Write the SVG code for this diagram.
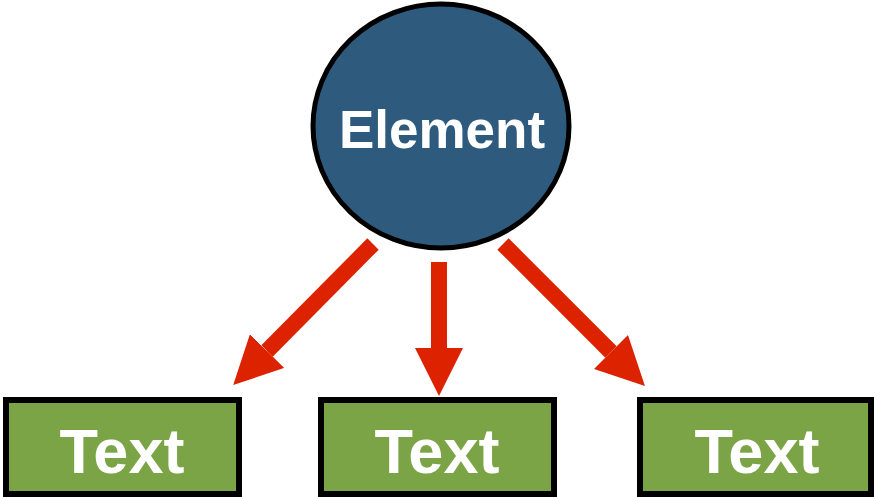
<svg xmlns="http://www.w3.org/2000/svg" width="874" height="497" viewBox="0 0 874 497">
<style>
.box{fill:#7BA447;stroke:#000;stroke-width:6}
.lbl{font-family:"Liberation Sans",Arial,sans-serif;font-weight:bold;fill:#fff;text-anchor:middle}
.conn{stroke:#DD2200;stroke-width:16;fill:none}
</style>
<defs>
<marker id="head" markerUnits="userSpaceOnUse" markerWidth="48" markerHeight="48" refX="0" refY="24" orient="auto" viewBox="0 0 48 48">
<path d="M0,0 L48,24 L0,48 Z" fill="#DD2200"/>
</marker>
</defs>
<rect width="874" height="497" fill="#fff"/>
<g id="connectors">
<line class="conn" x1="373" y1="244" x2="267" y2="351" marker-end="url(#head)"/>
<line class="conn" x1="439" y1="262" x2="439" y2="348" marker-end="url(#head)"/>
<line class="conn" x1="503" y1="244" x2="611" y2="352" marker-end="url(#head)"/>
</g>
<g id="element">
<ellipse cx="441" cy="126" rx="128" ry="122" fill="#2E5B7D" stroke="#000" stroke-width="5"/>
<text class="lbl" x="442" y="148" font-size="53">Element</text>
</g>
<g id="text1">
<rect class="box" x="6" y="400" width="233" height="94"/>
<text class="lbl" x="122" y="473" font-size="63">Text</text>
</g>
<g id="text2">
<rect class="box" x="321" y="400" width="233" height="94"/>
<text class="lbl" x="437" y="473" font-size="63">Text</text>
</g>
<g id="text3">
<rect class="box" x="640" y="400" width="231" height="94"/>
<text class="lbl" x="757" y="473" font-size="63">Text</text>
</g>
</svg>
